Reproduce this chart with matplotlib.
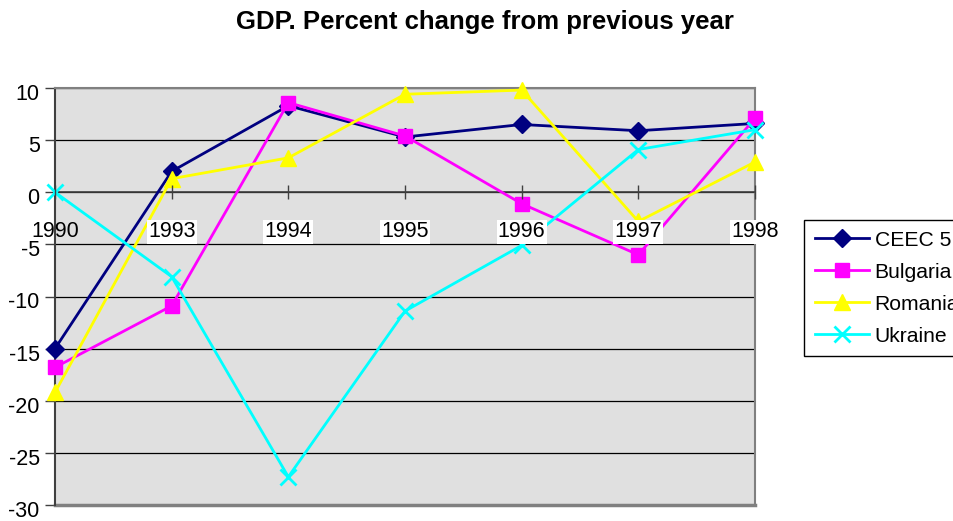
import matplotlib
matplotlib.use("Agg")
import matplotlib.pyplot as plt
import matplotlib.transforms as mtransforms

# ── Data ──────────────────────────────────────────────────────────────────────
years = ["1990", "1993", "1994", "1995", "1996", "1997", "1998"]
ceec5 = [-15.0, 2.0, 8.3, 5.3, 6.5, 5.9, 6.6]
bulgaria = [-16.8, -10.9, 8.6, 5.4, -1.1, -6.0, 7.1]
romania = [-19.2, 1.3, 3.3, 9.4, 9.8, -2.8, 2.9]
ukraine = [0.0, -8.1, -27.3, -11.4, -5.1, 4.1, 6.0]

series = [
    ("CEEC 5", ceec5, "#000080", "D", 9),
    ("Bulgaria", bulgaria, "#FF00FF", "s", 10),
    ("Romania", romania, "#FFFF00", "^", 11),
    ("Ukraine", ukraine, "#00FFFF", "x", 11),
]

plt.rcParams["font.family"] = ["Liberation Sans", "DejaVu Sans"]
plt.rcParams["axes.unicode_minus"] = False

W, H = 954, 521
fig = plt.figure(figsize=(W / 100, H / 100), dpi=100)
ax = fig.add_axes([55 / W, 1 - 505 / H, 700 / W, 417 / H])

x = list(range(len(years)))
for name, vals, color, marker, ms in series:
    ax.plot(x, vals, color=color, lw=2, marker=marker, ms=ms,
            mew=2 if marker == "x" else 1, mec=color, mfc=color,
            label=name, zorder=3, clip_on=False)

ax.set_xlim(0, 6)
ax.set_ylim(-30, 10)
ax.set_yticks(range(-30, 11, 5))
ax.set_facecolor("#E0E0E0")
ax.yaxis.grid(True, color="black", lw=0.9)
ax.set_axisbelow(True)

# frame: gray border, dark left axis, category axis crossing at 0
for s in ["top", "right"]:
    ax.spines[s].set_color("#808080")
    ax.spines[s].set_linewidth(1.5)
ax.spines["left"].set_color("#404040")
ax.spines["left"].set_linewidth(1.5)
ax.spines["bottom"].set_position(("data", 0))
ax.spines["bottom"].set_color("#404040")
ax.spines["bottom"].set_linewidth(1.2)
ax.axhline(-30, color="#808080", lw=2.5, zorder=2, clip_on=False)

ax.set_xticks(x)
ax.set_xticklabels(years)
ax.tick_params(axis="x", direction="inout", length=10, width=1,
               color="#404040", pad=16, labelsize=15.5)
ax.tick_params(axis="y", direction="out", length=7, width=1,
               color="#404040", labelsize=15.5, pad=4)
for lbl in ax.get_xticklabels()[1:]:
    lbl.set_bbox(dict(facecolor="white", edgecolor="none", pad=1))
# value labels sit a little below their gridlines (Excel style)
shift = mtransforms.ScaledTranslation(0, -4 / 100, fig.dpi_scale_trans)
for lbl in ax.get_yticklabels():
    lbl.set_transform(lbl.get_transform() + shift)
# category labels sit on top of the lines, as in the original
ax.xaxis.set_zorder(5)

fig.text(485 / W, 1 - 22 / H, "GDP. Percent change from previous year",
         ha="center", va="center", fontsize=18.5, fontweight="bold")

leg = fig.legend(loc="upper left", bbox_to_anchor=(804 / W, 1 - 220 / H),
                 fontsize=15.2, frameon=True, fancybox=False, framealpha=1,
                 edgecolor="black", handlelength=2.6, handletextpad=0.25,
                 borderpad=0.5, labelspacing=0.62, borderaxespad=0)
leg.get_frame().set_linewidth(1)

fig.savefig("out.png", dpi=100)
